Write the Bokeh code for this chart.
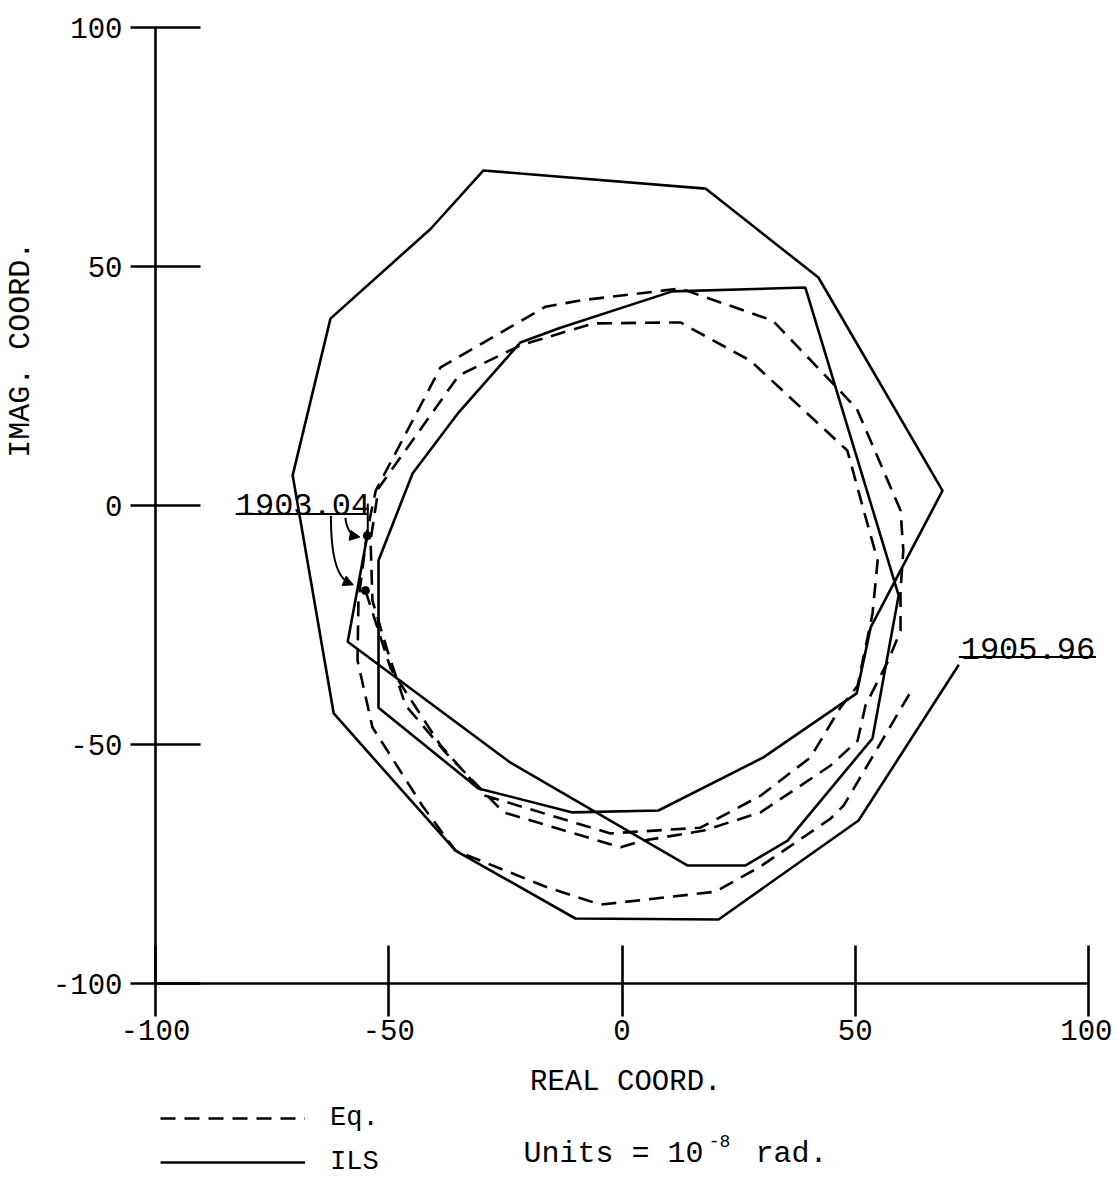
from bokeh.plotting import figure
from bokeh.models import (Range1d, LinearAxis, FixedTicker, Label, Legend, LegendItem,
                          Arrow, NormalHead)
from bokeh.embed import file_html
from bokeh.resources import INLINE
from bokeh.core.properties import value

# ---- data (units = 1e-8 rad) ----
ils_x = [-54.6, -58.8, -23.9, 14.0, 26.5, 35.5, 53.7, 59.3, 39.3, 10.8, -13.2, -21.8,
         -35.0, -44.9, -52.2, -52.2, -30.8, -10.6, 7.8, 30.3, 50.3, 53.3, 68.7, 42.1,
         17.9, -29.7, -41.0, -62.5, -70.6, -61.8, -35.7, -10.0, 20.7, 50.7, 72.2]
ils_y = [-6.3, -28.5, -53.8, -75.3, -75.3, -70.1, -48.7, -18.8, 45.6, 44.8, 37.2, 34.1,
         19.5, 6.7, -11.5, -42.3, -59.2, -64.2, -63.8, -52.7, -39.3, -25.5, 3.1, 47.7,
         66.3, 70.1, 57.9, 39.1, 6.3, -43.5, -72.2, -86.4, -86.6, -65.9, -33.3]

eq_x = [-55.0, -49.6, -38.9, -29.3, -2.5, 16.8, 29.7, 40.4, 46.8, 50.5, 53.7, 54.8,
        52.4, 48.3, 27.5, 12.5, -6.1, -21.8, -35.0, -52.2, -53.9, -53.5, -50.3, -46.4,
        -37.8, -25.4, -0.3, 4.6, 17.5, 29.7, 38.3, 44.7, 50.5, 52.2, 57.1, 59.7, 59.7,
        60.3, 59.7, 50.3, 32.3, 12.5, -8.9, -16.4, -38.9, -52.8, -54.6, -56.5, -56.7,
        -53.5, -42.8, -35.7, -16.0, -4.6, 20.0, 29.7, 44.7, 47.5, 62.3]
eq_y = [-17.8, -34.1, -50.2, -60.7, -68.6, -67.4, -60.7, -52.7, -42.3, -37.7, -22.6, -11.5,
        -3.1, 11.5, 30.3, 38.3, 38.1, 33.5, 27.2, 3.6, -7.3, -19.9, -30.3, -41.8,
        -51.7, -64.2, -71.5, -70.1, -68.0, -64.2, -58.6, -54.4, -49.2, -41.8, -32.4, -26.2, -17.8,
        -9.4, -1.0, 20.3, 38.7, 45.4, 42.9, 41.6, 28.9, 3.1, -5.2, -19.9, -32.4,
        -46.4, -62.8, -72.2, -79.9, -83.5, -80.8, -75.5, -65.5, -62.8, -38.3]

x_ticks = [-100, -50, 0, 50, 100]
y_ticks = [-100, -50, 0, 50, 100]
start_label = "1903.04"
end_label = "1905.96"
series_names = ["Eq.", "ILS"]

FONT = "Liberation Mono"
INK = "black"

p = figure(width=1112, height=1180,
           x_range=Range1d(-133.23, 105.14), y_range=Range1d(-141.21, 105.65),
           x_axis_location=None, y_axis_location=None, min_border=0,
           toolbar_location=None, output_backend="svg")
p.outline_line_color = None
p.background_fill_color = "white"
p.grid.visible = False

def tick_overrides(ticks):
    return {t: str(t) for t in ticks}

xaxis = LinearAxis(fixed_location=-100, bounds=(-100, 100),
                   ticker=FixedTicker(ticks=x_ticks),
                   major_label_overrides=tick_overrides(x_ticks),
                   axis_line_width=2.6, major_tick_line_width=2.6,
                   major_tick_in=38, major_tick_out=33,
                   minor_tick_line_color=None,
                   major_label_standoff=3,
                   major_label_text_font=FONT, major_label_text_font_size="29px",
                   major_label_text_color=INK)
p.add_layout(xaxis, "below")

yaxis = LinearAxis(fixed_location=-100, bounds=(-100, 100),
                   ticker=FixedTicker(ticks=y_ticks),
                   major_label_overrides=tick_overrides(y_ticks),
                   axis_line_width=2.6, major_tick_line_width=2.6,
                   major_tick_in=45, major_tick_out=25,
                   minor_tick_line_color=None,
                   major_label_standoff=8,
                   major_label_orientation="horizontal",
                   major_label_text_font=FONT, major_label_text_font_size="29px",
                   major_label_text_color=INK)
p.add_layout(yaxis, "left")

eq_r = p.line(eq_x, eq_y, line_color=INK, line_width=2.6, line_dash="15 9")
ils_r = p.line(ils_x, ils_y, line_color=INK, line_width=2.6)

# start points
p.scatter([ils_x[0], eq_x[0]], [ils_y[0], eq_y[0]], size=8, color=INK)

# start annotation
p.add_layout(Label(x=-82.8, y=0.2, text=start_label, text_font=FONT, text_color=INK,
                   text_font_size="32px", text_baseline="alphabetic"))
p.segment(x0=[-82.8, -54.5], y0=[-1.8, 0.4], x1=[-54.5, -54.5], y1=[-1.8, -6.3],
          line_color=INK, line_width=2)
p.quadratic(x0=[-59.3], y0=[-2.6], x1=[-56.6], y1=[-6.4], cx=[-58.9], cy=[-6.2],
            line_color=INK, line_width=2)
p.bezier(x0=[-62.4], y0=[-2.2], x1=[-58.2], y1=[-16.2], cx0=[-62.4], cy0=[-11.0],
         cx1=[-61.0], cy1=[-15.5], line_color=INK, line_width=2)
p.add_layout(Arrow(end=NormalHead(size=10, fill_color=INK, line_color=INK),
                   x_start=-57.4, y_start=-6.4, x_end=-56.2, y_end=-6.6,
                   line_color=INK, line_width=2))
p.add_layout(Arrow(end=NormalHead(size=10, fill_color=INK, line_color=INK),
                   x_start=-59.0, y_start=-16.0, x_end=-57.6, y_end=-16.6,
                   line_color=INK, line_width=2))

# end annotation
p.add_layout(Label(x=72.6, y=-29.9, text=end_label, text_font=FONT, text_color=INK,
                   text_font_size="32px", text_baseline="alphabetic"))
p.segment(x0=[72.2], y0=[-31.7], x1=[101.6], y1=[-31.7], line_color=INK, line_width=2)

# axis titles
p.add_layout(Label(x=-128.9, y=32.6, text="IMAG. COORD.", angle=90, angle_units="deg",
                   text_font=FONT, text_font_size="30px", text_align="center",
                   text_baseline="middle", text_color=INK))
p.add_layout(Label(x=0.8, y=-120.7, text="REAL COORD.", text_font=FONT, text_color=INK,
                   text_font_size="29px", text_align="center", text_baseline="middle"))

# units note
p.add_layout(Label(x=-21.1, y=-135.6, text="Units = 10", text_font=FONT, text_color=INK,
                   text_font_size="30px", text_baseline="alphabetic"))
p.add_layout(Label(x=18.6, y=-132.9, text="-8", text_font=FONT, text_color=INK,
                   text_font_size="18px", text_baseline="alphabetic"))
p.add_layout(Label(x=28.6, y=-135.6, text="rad.", text_font=FONT, text_color=INK,
                   text_font_size="30px", text_baseline="alphabetic"))

legend = Legend(items=[LegendItem(label=series_names[0], renderers=[eq_r]),
                       LegendItem(label=series_names[1], renderers=[ils_r])],
                location=(160, 3), orientation="vertical",
                glyph_width=145, glyph_height=20, label_standoff=25, spacing=14,
                padding=0, margin=0, border_line_color=None, background_fill_alpha=0,
                label_text_font=FONT, label_text_font_size="27px",
                label_text_color=INK)
p.add_layout(legend)

open("out.html", "w").write(file_html(p, INLINE))
